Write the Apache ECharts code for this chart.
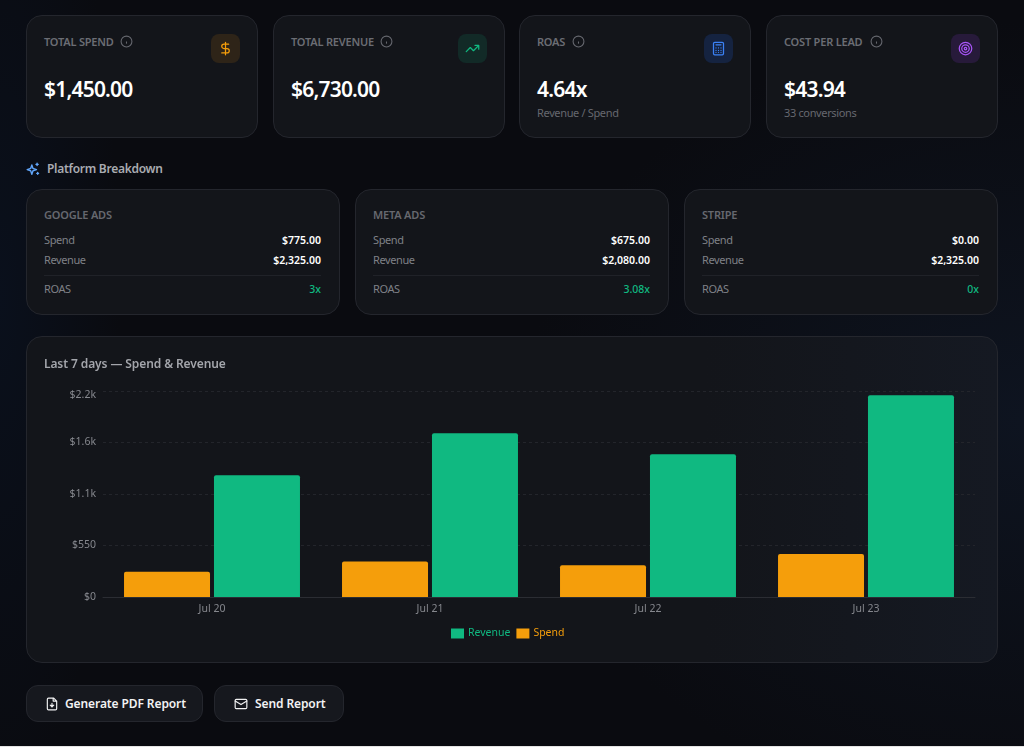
<!DOCTYPE html>
<html>
<head>
<meta charset="UTF-8">
<title>Report</title>
<script src="https://cdn.jsdelivr.net/npm/echarts@6/dist/echarts.min.js"></script>
<style>
	* { box-sizing: border-box; }
	html, body { margin: 0; height: 747px; overflow: hidden; }
	body {
		position: relative;
		width: 1024px;
		font-family: "Noto Sans", "Open Sans", sans-serif;
		color: #fff;
		background:
			radial-gradient(500px 400px at 1024px 420px, #0e1420 0%, rgba(14,20,32,0) 100%),
			radial-gradient(120px 500px at 0 300px, #0a101c 0%, rgba(10,16,28,0) 100%),
			#0a0b10;
	}
	.card {
		position: absolute;
		background: #13151a;
		border: 1px solid #24262d;
		border-radius: 16px;
	}
	.kpi { top: 15px; width: 232px; height: 123px; }
	.kpi .label { position: absolute; left: 17px; top: 18px; font-size: 11px; font-weight: 600; color: #6b6d74; letter-spacing: -0.2px; }
	.kpi .info { position: absolute; top: 19px; }
	.kpi .value { position: absolute; left: 17px; top: 58px; font-size: 21px; line-height: 30px; font-weight: 600; letter-spacing: -0.8px; }
	.kpi .sub { position: absolute; left: 17px; top: 89px; font-size: 11px; color: #66686f; letter-spacing: -0.35px; }
	.kpi .icon { position: absolute; right: 17px; top: 18px; width: 29px; height: 29px; border-radius: 8px; display: flex; align-items: center; justify-content: center; }
	.section { position: absolute; left: 47px; top: 160px; font-size: 12px; font-weight: 600; color: #a9abb1; letter-spacing: -0.28px; }
	.spark { position: absolute; left: 26px; top: 162px; }
	.plat { top: 189px; width: 314px; height: 126px; }
	.plat .name { position: absolute; left: 17px; top: 17px; font-size: 11px; font-weight: 600; color: #66686f; letter-spacing: -0.2px; }
	.plat .row { position: absolute; left: 17px; right: 18px; display: flex; justify-content: space-between; font-size: 11px; line-height: 16px; color: #7f8187; letter-spacing: -0.4px; }
	.plat .row b { font-weight: 600; color: #fff; font-size: 10.5px; letter-spacing: 0; }
	.plat .row b.green { color: #10b981; font-weight: 500; }
	.plat hr { position: absolute; left: 17px; right: 18px; top: 85px; margin: 0; border: 0; border-top: 1px solid #202228; }
	.chart-card { left: 26px; top: 336px; width: 972px; height: 327px; background: linear-gradient(90deg, #13151a 70%, #151922 100%); }
	.chart-card .title { position: absolute; left: 17px; top: 18px; font-size: 12px; font-weight: 600; color: #a3a5ab; letter-spacing: -0.1px; }
	#chart { position: absolute; left: -1px; top: -1px; width: 972px; height: 327px; }
	.btn { position: absolute; top: 685px; height: 37px; background: #16181e; border: 1px solid #24262d; border-radius: 12px; font-size: 12px; font-weight: 600; color: #f2f2f3; display: flex; align-items: center; padding-left: 18px; gap: 6px; letter-spacing: -0.1px; }
	.edge { position: absolute; left: 0; top: 746px; width: 1024px; height: 1px; background: #e4e4e4; }
</style>
</head>
<body>
	<div class="card kpi" style="left:26px">
		<div class="label">TOTAL SPEND</div>
		<svg class="info" style="left:93px" width="13" height="13" viewBox="0 0 24 24" fill="none" stroke="#66686f" stroke-width="2"><circle cx="12" cy="12" r="10"/><path d="M12 16v-4M12 8h0"/></svg>
		<div class="icon" style="background:#2e2418"><svg width="15" height="15" viewBox="0 0 24 24" fill="none" stroke="#f59e0b" stroke-width="2" stroke-linecap="round"><path d="M12 2v20M17 5H9.5a3.5 3.5 0 0 0 0 7h5a3.5 3.5 0 0 1 0 7H6"/></svg></div>
		<div class="value">$1,450.00</div>
	</div>
	<div class="card kpi" style="left:273px">
		<div class="label">TOTAL REVENUE</div>
		<svg class="info" style="left:106px" width="13" height="13" viewBox="0 0 24 24" fill="none" stroke="#66686f" stroke-width="2"><circle cx="12" cy="12" r="10"/><path d="M12 16v-4M12 8h0"/></svg>
		<div class="icon" style="background:#122a27"><svg width="15" height="15" viewBox="0 0 24 24" fill="none" stroke="#10b981" stroke-width="2" stroke-linecap="round" stroke-linejoin="round"><path d="M22 7l-8.5 8.5-5-5L2 17M16 7h6v6"/></svg></div>
		<div class="value">$6,730.00</div>
	</div>
	<div class="card kpi" style="left:519px">
		<div class="label">ROAS</div>
		<svg class="info" style="left:52px" width="13" height="13" viewBox="0 0 24 24" fill="none" stroke="#66686f" stroke-width="2"><circle cx="12" cy="12" r="10"/><path d="M12 16v-4M12 8h0"/></svg>
		<div class="icon" style="background:#152340"><svg width="15" height="15" viewBox="0 0 24 24" fill="none" stroke="#3b82f6" stroke-width="2" stroke-linecap="round"><rect x="4" y="2" width="16" height="20" rx="2"/><path d="M8 6h8M8 11h0M12 11h0M16 11h0M8 15h0M12 15h0M16 15h0M8 18h0M12 18h0M16 18h0"/></svg></div>
		<div class="value">4.64x</div>
		<div class="sub">Revenue / Spend</div>
	</div>
	<div class="card kpi" style="left:766px">
		<div class="label">COST PER LEAD</div>
		<svg class="info" style="left:103px" width="13" height="13" viewBox="0 0 24 24" fill="none" stroke="#66686f" stroke-width="2"><circle cx="12" cy="12" r="10"/><path d="M12 16v-4M12 8h0"/></svg>
		<div class="icon" style="background:#271a3a"><svg width="15" height="15" viewBox="0 0 24 24" fill="none" stroke="#a855f7" stroke-width="2"><circle cx="12" cy="12" r="10"/><circle cx="12" cy="12" r="6"/><circle cx="12" cy="12" r="2"/></svg></div>
		<div class="value">$43.94</div>
		<div class="sub">33 conversions</div>
	</div>

	<svg class="spark" width="14" height="14" viewBox="0 0 24 24" fill="none" stroke="#60a5fa" stroke-width="2.4" stroke-linecap="round" stroke-linejoin="round"><path d="M10 5l2 6 6 2-6 2-2 6-2-6-6-2 6-2zM19 2v4M17 4h4M20 18v3M18.5 19.5h3"/></svg>
	<div class="section">Platform Breakdown</div>

	<div class="card plat" style="left:26px">
		<div class="name">GOOGLE ADS</div>
		<div class="row" style="top:42px"><span>Spend</span><b>$775.00</b></div>
		<div class="row" style="top:62px"><span>Revenue</span><b>$2,325.00</b></div>
		<hr>
		<div class="row" style="top:91px"><span>ROAS</span><b class="green">3x</b></div>
	</div>
	<div class="card plat" style="left:355px">
		<div class="name">META ADS</div>
		<div class="row" style="top:42px"><span>Spend</span><b>$675.00</b></div>
		<div class="row" style="top:62px"><span>Revenue</span><b>$2,080.00</b></div>
		<hr>
		<div class="row" style="top:91px"><span>ROAS</span><b class="green">3.08x</b></div>
	</div>
	<div class="card plat" style="left:684px">
		<div class="name">STRIPE</div>
		<div class="row" style="top:42px"><span>Spend</span><b>$0.00</b></div>
		<div class="row" style="top:62px"><span>Revenue</span><b>$2,325.00</b></div>
		<hr>
		<div class="row" style="top:91px"><span>ROAS</span><b class="green">0x</b></div>
	</div>

	<div class="card chart-card">
		<div id="chart"></div>
		<div class="title">Last 7 days — Spend &amp; Revenue</div>
	</div>

	<div class="btn" style="left:26px; width:177px">
		<svg width="14" height="14" viewBox="0 0 24 24" fill="none" stroke="#f2f2f3" stroke-width="2" stroke-linecap="round" stroke-linejoin="round"><path d="M15 2H6a2 2 0 0 0-2 2v16a2 2 0 0 0 2 2h12a2 2 0 0 0 2-2V7zM14 2v5h6M12 11v6M9 14l3 3 3-3"/></svg>
		<span>Generate PDF Report</span>
	</div>
	<div class="btn" style="left:214px; width:130px; padding-left:19px; gap:7px">
		<svg width="14" height="14" viewBox="0 0 24 24" fill="none" stroke="#f2f2f3" stroke-width="2" stroke-linecap="round" stroke-linejoin="round"><rect x="2" y="4" width="20" height="16" rx="2"/><path d="M22 7l-10 6L2 7"/></svg>
		<span>Send Report</span>
	</div>
	<div class="edge"></div>

	<script>
		var days = ['Jul 20', 'Jul 21', 'Jul 22', 'Jul 23'];
		var spend = [270, 380, 340, 460];
		var revenue = [1300, 1750, 1525, 2155];
		var tickLabels = {0: '$0', 550: '$550', 1100: '$1.1k', 1650: '$1.6k', 2200: '{top|$2.2k}'};

		var myChart = echarts.init(document.getElementById('chart'));
		var option = {
			animation: false,
			textStyle: { fontFamily: '"Noto Sans", sans-serif' },
			grid: { left: 77, right: 23, top: 55, bottom: 66 },
			legend: {
				data: ['Revenue', 'Spend'],
				left: 420,
				top: 287,
				icon: 'rect',
				itemWidth: 13,
				itemHeight: 10,
				itemGap: 6,
				textStyle: { color: 'inherit', fontSize: 10.5, padding: [0, 0, 0, -1] }
			},
			xAxis: {
				type: 'category',
				data: days,
				axisTick: { show: false },
				axisLine: { lineStyle: { color: '#2b2d33' } },
				axisLabel: { color: '#85878d', fontSize: 10.5, margin: 7 }
			},
			yAxis: {
				type: 'value',
				min: 0,
				max: 2200,
				interval: 550,
				axisLine: { show: false },
				axisTick: { show: false },
				axisLabel: {
					color: '#85878d',
					fontSize: 10.5,
					margin: 7,
					formatter: function (v) { return tickLabels[v]; },
					rich: { top: { color: '#85878d', fontSize: 10.5, padding: [9, 0, 0, 0] } }
				},
				splitLine: { lineStyle: { color: '#23252b', type: [3, 3] } }
			},
			series: [
				{
					name: 'Spend',
					type: 'bar',
					data: spend,
					barWidth: 86,
					barGap: '4.6%',
					itemStyle: { color: '#f59e0b', borderRadius: [2, 2, 0, 0] }
				},
				{
					name: 'Revenue',
					type: 'bar',
					data: revenue,
					barWidth: 86,
					itemStyle: { color: '#10b981', borderRadius: [2, 2, 0, 0] }
				}
			]
		};
		myChart.setOption(option);
	</script>
</body>
</html>
